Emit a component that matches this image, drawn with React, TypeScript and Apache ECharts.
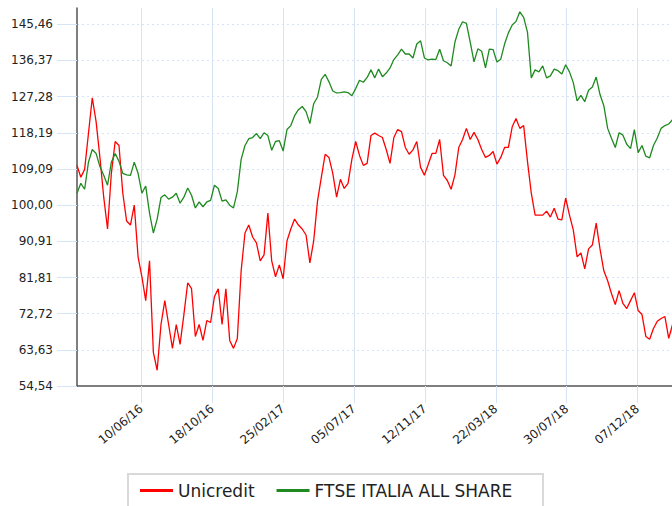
import React, { useEffect, useRef } from "react";
import * as echarts from "echarts";

// ---- data (weekly closes) ----
const START_DATE = "2016-02-13";
const END_DATE = "2019-02-08";
const STEP_DAYS = 7;

const xTickLabels = ["10/06/16", "18/10/16", "25/02/17", "05/07/17", "12/11/17", "22/03/18", "30/07/18", "07/12/18"];
const yTickLabels = ["54,54", "63,63", "72,72", "81,81", "90,91", "100,00", "109,09", "118,19", "127,28", "136,37", "145,46"];
const Y_MIN = 54.54;
const Y_MAX = 149.56;

const seriesNames = ["Unicredit", "FTSE ITALIA ALL SHARE"];

const unicredit = [
  110, 107, 109, 118, 127, 121, 112, 102, 94, 108,
  116, 115, 103, 96, 95, 100, 87, 82, 76, 86,
  63, 58.5, 70, 76, 70, 64, 70, 65, 72.5, 80.5,
  79, 67, 70, 66, 71, 70.5, 77, 79, 70, 79,
  66, 64, 66.5, 83.5, 93, 95, 92, 90.5, 86, 87.5,
  98, 86, 82, 85, 81.5, 91, 94, 96.5, 95, 94,
  92.5, 85.5, 91, 101, 107, 112.8, 112, 108, 102, 106.5,
  104.2, 105.5, 111.5, 116, 112.5, 110, 110.5, 117.5, 118.1, 117.5,
  117, 114, 110.5, 117, 119, 118.5, 114.5, 112.8, 113.9, 116,
  109.5, 107.5, 110.2, 113, 113, 116.5, 107.5, 106.2, 104, 107.6,
  114.5, 116.5, 119.3, 116.5, 118.3, 116.5, 114, 112, 112.5, 113.5,
  110.3, 112, 114.5, 114.5, 119.7, 121.8, 119.3, 120, 111, 103,
  97.5, 97.5, 97.5, 98.5, 97, 99.2, 96.5, 96.3, 101.8, 97.5,
  93.8, 87, 88, 84, 89, 90, 95.5, 89, 83.5, 81,
  77.8, 75, 78.5, 75.3, 74, 76, 78, 73.5, 72.5, 67,
  66.3, 69, 70.8, 71.5, 72, 66.5, 70,
];

const ftseItalia = [
  103, 105.5, 104, 110.8, 114, 113, 109.7, 107.5, 105, 110.8,
  113, 111, 108, 107.6, 107.5, 110.8, 108, 103, 104.8, 98,
  93, 96.5, 101.9, 102.6, 101.5, 102, 103, 100.5, 102, 104.3,
  102.5, 99.3, 100.8, 99.6, 100.8, 101.2, 105, 104.2, 101, 101.3,
  100, 99.3, 103.4, 111.5, 115, 116.7, 117, 118, 116.7, 118.2,
  117.5, 113.8, 116, 116.2, 113.6, 119, 120, 122.5, 124, 124.8,
  123.5, 120.5, 125.5, 127.2, 131.6, 132.9, 131, 128.7, 128.2, 128.3,
  128.5, 128.3, 127.5, 129.3, 131.4, 130.9, 132.1, 134, 132, 134.2,
  132.3, 133.2, 134.5, 136.6, 137.8, 139.2, 138, 138, 137, 140.5,
  141.3, 137, 136.5, 136.7, 136.6, 139.2, 136.3, 135.8, 135, 141,
  144.2, 146.1, 145.7, 141, 136, 139.3, 138.7, 134.5, 139.2, 139.1,
  136, 136.7, 140.5, 143.3, 145.3, 146.2, 148.6, 147.2, 143.5, 132,
  134, 133.5, 135, 132, 132.5, 134.2, 133.8, 133, 135.3, 133.5,
  130.8, 126.2, 127.6, 126, 128.9, 129.7, 132.2, 127.8, 125, 119.3,
  116.8, 114.5, 118.2, 117.6, 115.3, 114.2, 119, 113.2, 115, 112.3,
  111.9, 115, 116.9, 119.3, 120, 120.4, 121.5,
];

const DAY = 86400000;
const startTs = Date.parse(START_DATE);
const endTs = Date.parse(END_DATE);

function parseDMY(s: string): number {
  const [d, m, y] = s.split("/").map(Number);
  return Date.UTC(2000 + y, m - 1, d);
}
function pad(n: number) {
  return n < 10 ? "0" + n : "" + n;
}
function fmtDMY(ts: number): string {
  const d = new Date(ts);
  return pad(d.getUTCDate()) + "/" + pad(d.getUTCMonth() + 1) + "/" + pad(d.getUTCFullYear() % 100);
}

const xTicks = xTickLabels.map(parseDMY);
const yTicks = yTickLabels.map((s) => parseFloat(s.replace(",", ".")));

const toPairs = (vals: number[]) => vals.map((v, i) => [startTs + i * STEP_DAYS * DAY, v]);

const GRID_BLUE = "#d6e4f5";
const FONT = "DejaVu Sans";

export default function App() {
  const ref = useRef<HTMLDivElement>(null);
  useEffect(() => {
    if (!ref.current) return;
    const chart = echarts.init(ref.current, undefined, { renderer: "svg" });
    chart.setOption({
      animation: false,
      backgroundColor: "#ffffff",
      grid: { left: 77, right: 0, top: 8, bottom: 120, containLabel: false },
      xAxis: {
        type: "value",
        min: startTs,
        max: endTs,
        scale: true,
        axisLine: { show: true, onZero: false, lineStyle: { color: "#555555", width: 1.5 } },
        axisTick: { show: true, customValues: xTicks, length: 17, lineStyle: { color: GRID_BLUE, width: 1 } },
        axisLabel: {
          customValues: xTicks,
          rotate: 40,
          margin: 21,
          fontSize: 12,
          fontFamily: FONT,
          color: "#222222",
          formatter: (v: number) => fmtDMY(v),
        },
        splitLine: { show: true, lineStyle: { color: GRID_BLUE, width: 1, type: "solid" } },
      },
      yAxis: {
        type: "value",
        min: Y_MIN,
        max: Y_MAX,
        axisLine: { show: true, lineStyle: { color: "#555555", width: 1.5 } },
        axisTick: { show: true, customValues: yTicks, length: 20, lineStyle: { color: GRID_BLUE, width: 1 } },
        axisLabel: {
          customValues: yTicks,
          margin: 24,
          fontSize: 12,
          fontFamily: FONT,
          color: "#222222",
          formatter: (v: number) => v.toFixed(2).replace(".", ","),
        },
        splitLine: { show: true, showMinLine: false, lineStyle: { color: GRID_BLUE, width: 1, type: [2, 3] } },
      },
      legend: {
        data: seriesNames,
        left: 140,
        top: 482,
        padding: 0,
        icon: "rect",
        itemWidth: 33,
        itemHeight: 3,
        itemGap: 22,
        textStyle: { fontSize: 17, color: "#222222", fontFamily: FONT },
      },
      graphic: [
        {
          type: "rect",
          z: 0,
          silent: true,
          shape: { x: 128, y: 474, width: 415, height: 45 },
          style: { fill: "#ffffff", stroke: "#d9d9d9", lineWidth: 2 },
        },
      ],
      series: [
        {
          name: seriesNames[0],
          type: "line",
          symbol: "none",
          color: "#ff0000",
          lineStyle: { color: "#ff0000", width: 1.3 },
          data: toPairs(unicredit),
        },
        {
          name: seriesNames[1],
          type: "line",
          symbol: "none",
          color: "#1f8a1f",
          lineStyle: { color: "#1f8a1f", width: 1.3 },
          data: toPairs(ftseItalia),
        },
      ],
    });
    return () => chart.dispose();
  }, []);
  return (
    <div
      ref={ref}
      style={{ position: "absolute", left: 0, top: 0, width: 672, height: 506 }}
    />
  );
}
